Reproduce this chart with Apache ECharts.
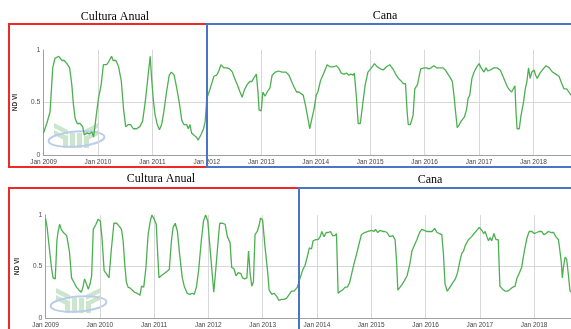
<!DOCTYPE html>
<html>
<head>
<meta charset="utf-8">
<script src="https://cdn.jsdelivr.net/npm/echarts@6/dist/echarts.min.js"></script>
<style>
html,body{margin:0;padding:0;background:#fff;}
#c{width:571px;height:329px;}
</style>
</head>
<body>
<div id="c"></div>
<script>
// ---- Data (decimal year, NDVI) ----
const tickYears = [2009,2010,2011,2012,2013,2014,2015,2016,2017,2018];
const panelTitles = ['Cultura Anual', 'Cana'];
const yAxisName = 'ND VI';

const topYears = [
2009.00,2009.06,2009.12,2009.17,2009.21,2009.28,2009.34,2009.38,2009.43,2009.48,2009.52,2009.55,2009.58,2009.62,2009.67,2009.72,2009.75,2009.80,2009.84,2009.89,2009.92,2009.97,
2010.01,2010.06,2010.10,2010.16,2010.20,2010.25,2010.28,2010.33,2010.38,2010.43,2010.47,2010.51,2010.56,2010.60,2010.65,2010.71,2010.77,2010.82,2010.87,2010.91,2010.96,2010.99,
2011.02,2011.05,2011.09,2011.13,2011.17,2011.21,2011.26,2011.31,2011.35,2011.40,2011.45,2011.50,2011.54,2011.58,2011.63,2011.66,2011.69,2011.72,2011.76,2011.81,2011.84,2011.89,2011.94,2011.97,
2012.00,2012.06,2012.13,2012.18,2012.22,2012.26,2012.31,2012.37,2012.42,2012.47,2012.51,2012.56,2012.61,2012.65,2012.69,2012.74,2012.79,2012.83,2012.86,2012.91,2012.94,2012.96,
2013.00,2013.03,2013.07,2013.11,2013.16,2013.20,2013.26,2013.32,2013.38,2013.45,2013.51,2013.55,2013.60,2013.65,2013.69,2013.72,2013.77,2013.81,2013.85,2013.89,2013.92,2013.97,
2014.01,2014.04,2014.09,2014.15,2014.21,2014.26,2014.32,2014.38,2014.42,2014.47,2014.52,2014.57,2014.61,2014.65,2014.69,2014.71,2014.75,2014.78,2014.82,2014.87,2014.91,2014.96,
2015.01,2015.04,2015.08,2015.13,2015.19,2015.24,2015.30,2015.36,2015.43,2015.48,2015.52,2015.56,2015.61,2015.65,2015.68,2015.70,2015.74,2015.79,2015.82,2015.87,2015.90,2015.93,2015.99,
2016.04,2016.08,2016.12,2016.17,2016.22,2016.28,2016.34,2016.38,2016.43,2016.48,2016.51,2016.54,2016.57,2016.60,2016.64,2016.67,2016.70,2016.73,2016.77,2016.80,2016.83,2016.87,2016.91,2016.96,
2017.00,2017.04,2017.09,2017.13,2017.16,2017.21,2017.27,2017.33,2017.39,2017.44,2017.48,2017.52,2017.56,2017.60,2017.66,2017.68,2017.70,2017.74,2017.77,2017.82,2017.85,2017.88,2017.91,2017.94,2017.97,
2018.01,2018.04,2018.07,2018.12,2018.18,2018.23,2018.29,2018.35,2018.41,2018.47,2018.52,2018.56,2018.61,2018.65,2018.69
];
const topNdvi = [
0.21,0.30,0.41,0.83,0.92,0.94,0.90,0.90,0.87,0.83,0.67,0.48,0.35,0.30,0.30,0.27,0.19,0.21,0.20,0.22,0.17,0.38,
0.54,0.67,0.86,0.86,0.89,0.94,0.90,0.90,0.84,0.70,0.44,0.27,0.29,0.29,0.25,0.25,0.27,0.32,0.51,0.70,0.94,0.70,
0.51,0.38,0.29,0.24,0.29,0.41,0.60,0.76,0.79,0.76,0.63,0.48,0.33,0.29,0.29,0.25,0.29,0.21,0.19,0.17,0.14,0.19,0.25,0.32,
0.54,0.63,0.75,0.76,0.80,0.86,0.83,0.83,0.82,0.79,0.73,0.67,0.60,0.55,0.62,0.67,0.70,0.70,0.73,0.77,0.60,0.43,
0.42,0.60,0.56,0.60,0.64,0.76,0.79,0.80,0.79,0.79,0.76,0.71,0.65,0.60,0.60,0.60,0.57,0.48,0.37,0.25,0.25,0.44,
0.57,0.60,0.71,0.78,0.86,0.84,0.84,0.85,0.83,0.78,0.77,0.78,0.76,0.77,0.76,0.78,0.54,0.30,0.30,0.51,0.67,0.79,
0.82,0.82,0.87,0.84,0.82,0.81,0.84,0.86,0.81,0.76,0.73,0.71,0.68,0.68,0.41,0.29,0.29,0.38,0.63,0.67,0.75,0.82,0.83,
0.83,0.82,0.83,0.85,0.83,0.83,0.83,0.81,0.77,0.73,0.70,0.57,0.41,0.26,0.29,0.32,0.32,0.36,0.43,0.54,0.57,0.73,0.79,0.84,
0.87,0.83,0.79,0.83,0.80,0.81,0.83,0.83,0.81,0.75,0.70,0.65,0.62,0.60,0.66,0.41,0.25,0.25,0.37,0.51,0.63,0.70,0.83,0.73,0.79,
0.81,0.76,0.73,0.78,0.82,0.85,0.83,0.79,0.77,0.75,0.68,0.63,0.63,0.60,0.57
];

const botYears = [
2009.00,2009.03,2009.07,2009.11,2009.14,2009.18,2009.21,2009.23,2009.26,2009.29,2009.33,2009.36,2009.39,2009.44,2009.48,2009.52,2009.57,2009.62,2009.66,2009.69,2009.72,2009.75,2009.79,2009.82,2009.85,2009.88,2009.93,2009.97,
2010.01,2010.04,2010.08,2010.12,2010.17,2010.21,2010.26,2010.31,2010.36,2010.40,2010.43,2010.46,2010.49,2010.52,2010.56,2010.60,2010.64,2010.69,2010.74,2010.77,2010.81,2010.85,2010.89,2010.93,2010.96,
2011.00,2011.04,2011.07,2011.09,2011.13,2011.18,2011.23,2011.28,2011.32,2011.35,2011.39,2011.43,2011.47,2011.52,2011.56,2011.61,2011.66,2011.70,2011.74,2011.78,2011.82,2011.87,2011.91,2011.95,2011.99,
2012.04,2012.10,2012.13,2012.18,2012.21,2012.26,2012.31,2012.35,2012.40,2012.43,2012.47,2012.51,2012.55,2012.60,2012.63,2012.67,2012.71,2012.74,2012.77,2012.80,2012.83,2012.86,2012.90,2012.94,2012.96,
2013.00,2013.04,2013.09,2013.12,2013.17,2013.21,2013.26,2013.30,2013.35,2013.39,2013.44,2013.49,2013.53,2013.58,2013.61,2013.64,2013.69,2013.74,2013.78,2013.82,2013.86,2013.90,2013.93,2013.98,
2014.02,2014.06,2014.09,2014.13,2014.17,2014.21,2014.25,2014.29,2014.33,2014.36,2014.39,2014.43,2014.47,2014.52,2014.56,2014.60,2014.64,2014.68,2014.73,2014.78,2014.82,2014.88,2014.94,
2015.01,2015.05,2015.08,2015.12,2015.16,2015.21,2015.25,2015.29,2015.34,2015.40,2015.44,2015.47,2015.49,2015.52,2015.56,2015.61,2015.66,2015.71,2015.75,2015.79,2015.84,2015.89,2015.93,2015.98,
2016.02,2016.07,2016.12,2016.17,2016.21,2016.26,2016.30,2016.33,2016.36,2016.40,2016.45,2016.50,2016.55,2016.59,2016.64,2016.67,2016.70,2016.73,2016.76,2016.79,2016.85,2016.91,2016.96,2016.99,
2017.04,2017.07,2017.10,2017.13,2017.16,2017.19,2017.22,2017.26,2017.30,2017.34,2017.37,2017.42,2017.47,2017.51,2017.56,2017.61,2017.65,2017.68,2017.73,2017.77,2017.82,2017.87,2017.91,2017.96,
2018.00,2018.05,2018.09,2018.14,2018.18,2018.22,2018.26,2018.31,2018.36,2018.40,2018.45,2018.48,2018.50,2018.52,2018.54,2018.57,2018.60,2018.63,2018.66,2018.68
];
const botNdvi = [
0.97,0.88,0.68,0.49,0.39,0.38,0.75,0.83,0.91,0.86,0.83,0.84,0.80,0.65,0.39,0.35,0.30,0.27,0.25,0.30,0.38,0.39,0.28,0.33,0.41,0.86,0.91,0.96,
0.94,0.78,0.46,0.43,0.39,0.65,0.92,0.92,0.89,0.86,0.75,0.52,0.35,0.30,0.29,0.27,0.25,0.24,0.22,0.31,0.30,0.49,0.81,0.94,1.00,
0.96,0.91,0.59,0.39,0.41,0.43,0.45,0.47,0.75,0.88,0.92,0.84,0.62,0.39,0.30,0.24,0.23,0.24,0.23,0.30,0.46,0.75,0.94,1.00,0.94,
0.62,0.25,0.43,0.75,0.92,0.92,0.91,0.79,0.73,0.49,0.48,0.41,0.44,0.43,0.39,0.38,0.39,0.65,0.43,0.31,0.35,0.81,0.84,0.91,0.97,
0.95,0.71,0.46,0.27,0.23,0.24,0.21,0.17,0.18,0.18,0.19,0.23,0.26,0.26,0.26,0.30,0.39,0.47,0.51,0.59,0.68,0.67,0.75,0.76,
0.76,0.79,0.84,0.79,0.83,0.83,0.84,0.80,0.80,0.82,0.24,0.26,0.27,0.30,0.30,0.34,0.43,0.52,0.62,0.73,0.81,0.83,0.84,
0.85,0.84,0.86,0.83,0.85,0.84,0.84,0.83,0.79,0.80,0.76,0.52,0.27,0.27,0.32,0.36,0.41,0.52,0.65,0.70,0.76,0.83,0.86,0.85,
0.84,0.84,0.84,0.87,0.83,0.82,0.81,0.62,0.33,0.26,0.30,0.34,0.38,0.44,0.57,0.63,0.65,0.70,0.71,0.76,0.79,0.83,0.86,0.88,
0.85,0.82,0.84,0.79,0.75,0.78,0.75,0.82,0.76,0.76,0.31,0.28,0.26,0.26,0.28,0.30,0.31,0.38,0.44,0.49,0.65,0.78,0.84,0.84,
0.82,0.83,0.84,0.84,0.81,0.82,0.84,0.83,0.83,0.79,0.76,0.75,0.55,0.39,0.49,0.59,0.57,0.43,0.27,0.25
];

// ---- Chart ----
const pairs = (xs, ys) => xs.map((x, i) => [x, ys[i]]);
const LINE = '#4cb050';
const AXIS = '#a0a0a0';
const GRIDC = '#d8d8d8';

function xAxisCfg(gridIndex, max) {
  return {
    type: 'value', gridIndex, min: 2009, max, interval: 1,
    axisLine: { show: true, lineStyle: { color: AXIS, width: 1 } },
    axisTick: { show: false },
    axisLabel: {
      fontSize: 6.5, color: '#444', margin: 4, fontFamily: 'Liberation Sans',
      showMaxLabel: false,
      formatter: v => tickYears.includes(v) ? 'Jan ' + v : ''
    },
    splitLine: { show: true, lineStyle: { color: GRIDC, width: 1 } }
  };
}
function yAxisCfg(gridIndex) {
  return {
    type: 'value', gridIndex, min: 0, max: 1, interval: 0.5,
    axisLine: { show: true, lineStyle: { color: AXIS, width: 1 } },
    axisTick: { show: false },
    axisLabel: { fontSize: 7, color: '#555', margin: 3, fontFamily: 'Liberation Sans' },
    splitLine: { show: true, lineStyle: { color: ['rgba(0,0,0,0)', GRIDC, 'rgba(0,0,0,0)'], width: 1 } },
    name: yAxisName, nameLocation: 'middle', nameRotate: 90, nameGap: 25,
    nameTextStyle: { fontSize: 6.5, fontWeight: 'bold', color: '#333', fontFamily: 'Liberation Sans' }
  };
}

function logo(ox, oy) {
  const g = '#cbe6cd';
  const polys = [
    [[6,1],[20,8],[20,13],[6,6]],
    [[6,8],[20,15],[20,20],[6,13]],
    [[15,12],[20,14],[20,26],[15,26]],
    [[22,11],[27,11],[27,26],[22,26]],
    [[29,11],[34,11],[34,26],[29,26]],
    [[36,8],[50,1],[50,6],[36,13]],
    [[36,15],[50,8],[50,13],[36,20]],
    [[36,14],[41,14],[41,26],[36,26]]
  ];
  const children = polys.map(p => ({
    type: 'polygon', shape: { points: p }, style: { fill: g }, silent: true
  }));
  children.push({
    type: 'ellipse', shape: { cx: 28.5, cy: 17, rx: 28, ry: 7.5 },
    rotation: 0.08, originX: 28.5, originY: 17,
    style: { fill: 'none', stroke: '#b9cde9', lineWidth: 2 }, silent: true
  });
  return { type: 'group', x: ox, y: oy, z: 1, children };
}

function box(x, y, w, h, color, z) {
  return { type: 'rect', z, shape: { x, y, width: w, height: h },
    style: { fill: 'none', stroke: color, lineWidth: 2 }, silent: true };
}
function label(text, x, y) {
  return { type: 'text', z: 101, x, y,
    style: { text, fill: '#000', font: '12px "Liberation Serif", "Times New Roman", serif',
      textAlign: 'center', textVerticalAlign: 'middle' } };
}

const chart = echarts.init(document.getElementById('c'), null, { renderer: 'canvas' });
chart.setOption({
  animation: false,
  backgroundColor: '#fff',
  grid: [
    { left: 43.5, top: 50, right: 0, height: 105 },
    { left: 45.5, top: 215, right: 0, height: 104 }
  ],
  xAxis: [xAxisCfg(0, 2018.69), xAxisCfg(1, 2018.68)],
  yAxis: [yAxisCfg(0), yAxisCfg(1)],
  series: [
    { type: 'line', xAxisIndex: 0, yAxisIndex: 0, data: pairs(topYears, topNdvi),
      showSymbol: false, lineStyle: { color: LINE, width: 1.3 }, z: 3 },
    { type: 'line', xAxisIndex: 1, yAxisIndex: 1, data: pairs(botYears, botNdvi),
      showSymbol: false, lineStyle: { color: LINE, width: 1.3 }, z: 3 }
  ],
  graphic: [
    logo(48, 122),
    logo(50, 287),
    box(9, 24, 198, 143, '#f02828', 100),
    box(207, 24, 366, 143, '#4a74c6', 100),
    box(9, 188, 290, 150, '#f02828', 100),
    box(299, 188, 274, 150, '#4a74c6', 100),
    label(panelTitles[0], 115, 17),
    label(panelTitles[1], 385, 16),
    label(panelTitles[0], 161, 179),
    label(panelTitles[1], 430, 180)
  ]
});
</script>
</body>
</html>
